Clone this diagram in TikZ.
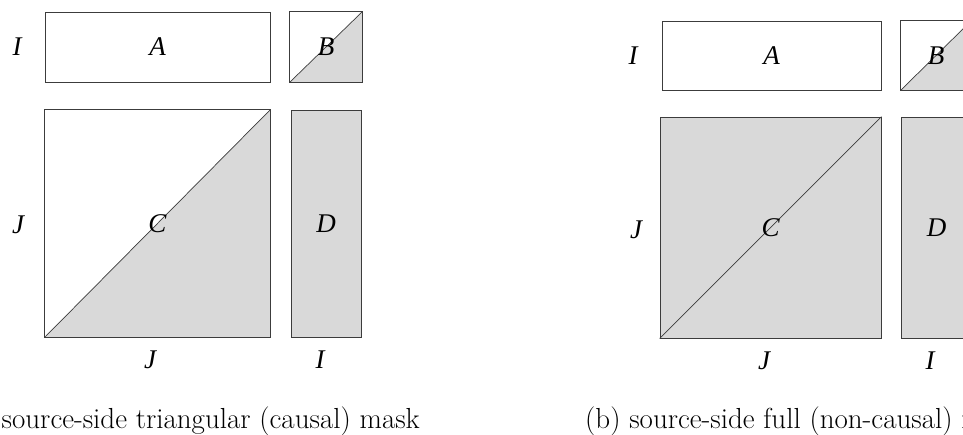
\documentclass[tikz,border=0pt]{standalone}
\usepackage{fontspec}
\newfontfamily\lblfont{Liberation Serif}
\definecolor{edgegray}{HTML}{3C3C3C}
\definecolor{maskgray}{HTML}{D9D9D9}
\usetikzlibrary{positioning}

\begin{document}
\begin{tikzpicture}[
    x=1pt, y=-1pt,
    blk/.style={draw=edgegray, line width=0.8pt, rectangle, inner sep=0pt},
    full blk/.style={blk, fill=maskgray},
    half blk/.style={rectangle, inner sep=0pt},
    diag/.style={draw=edgegray, line width=0.7pt},
    lbl/.style={font=\fontsize{27}{31}\lblfont\itshape, inner sep=0pt},
    subcap/.style={font=\fontsize{29}{34}\selectfont, anchor=base west, inner sep=0pt}
  ]
    \useasboundingbox (0,0) rectangle (963,434);
    \clip (0,0) rectangle (963,434);

    % (a) triangular mask
    \node[blk, minimum width=225pt, minimum height=70pt] (A-a) at (157.5,47) {};
    \node[half blk, minimum width=72pt, minimum height=70pt] (B-a) at (326,47) {};
    \node[half blk, minimum width=225pt, minimum height=227pt] (C-a) at (157.5,223.5) {};
    \node[full blk, minimum width=70pt, minimum height=227pt] (D-a) at (326,223.5) {};
    \fill[maskgray] (B-a.south west) -- (B-a.south east) -- (B-a.north east) -- cycle;
    \fill[maskgray] (C-a.south west) -- (C-a.south east) -- (C-a.north east) -- cycle;
    \draw[diag] (B-a.south west) -- (B-a.north east);
    \draw[diag] (C-a.south west) -- (C-a.north east);
    \draw[edgegray, line width=0.8pt] (B-a.north west) rectangle (B-a.south east);
    \draw[edgegray, line width=0.8pt] (C-a.north west) rectangle (C-a.south east);
    \node[lbl] (a-A) at (A-a) {A};
    \node[lbl] (a-B) at (B-a) {B};
    \node[lbl] (a-C) at (C-a) {C};
    \node[lbl] (a-D) at (D-a) {D};
    \node[lbl] (a-I) at (17,47) {I};
    \node[lbl] (a-J) at (18,225) {J};
    \node[lbl] (a-Jb) at (150,360) {J};
    \node[lbl] (a-Ib) at (320,360) {I};
    \node[subcap, anchor=base east] (cap-a) at (420,428) {(a) source-side triangular (causal) mask};

    % (b) full mask
    \node[blk, minimum width=219pt, minimum height=69pt] (A-b) at (771.5,55.5) {};
    \node[half blk, minimum width=70pt, minimum height=69pt] (B-b) at (936,55.5) {};
    \node[full blk, minimum width=221pt, minimum height=221pt] (C-b) at (770.5,227.5) {};
    \node[full blk, minimum width=70pt, minimum height=221pt] (D-b) at (936.5,227.5) {};
    \fill[maskgray] (B-b.south west) -- (B-b.south east) -- (B-b.north east) -- cycle;
    \draw[diag] (B-b.south west) -- (B-b.north east);
    \draw[diag] (C-b.south west) -- (C-b.north east);
    \draw[edgegray, line width=0.8pt] (B-b.north west) rectangle (B-b.south east);
    \node[lbl] (b-A) at (A-b) {A};
    \node[lbl] (b-B) at (B-b) {B};
    \node[lbl] (b-C) at (C-b) {C};
    \node[lbl] (b-D) at (D-b) {D};
    \node[lbl] (b-I) at (633,56) {I};
    \node[lbl] (b-J) at (636,230) {J};
    \node[lbl] (b-Jb) at (764,361) {J};
    \node[lbl] (b-Ib) at (930,361) {I};
    \node[subcap] (cap-b) at (585,428) {(b) source-side full (non-causal) mask};
\end{tikzpicture}
\end{document}
